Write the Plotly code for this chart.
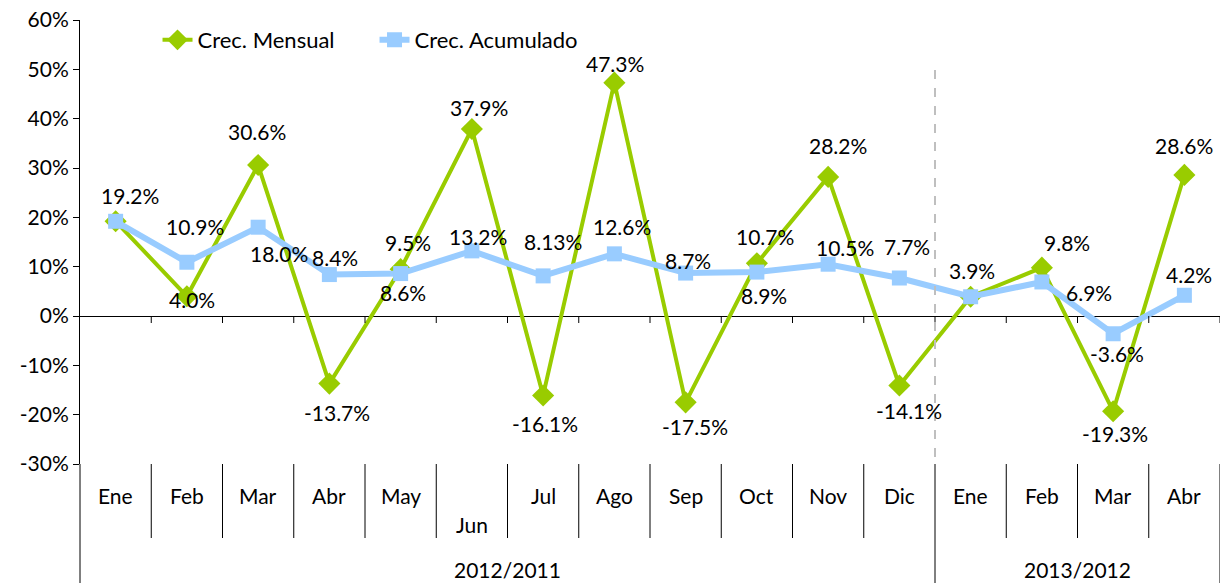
import plotly.graph_objects as go

# Monthly growth vs. same month previous year, and accumulated growth (%)
months = ["Ene", "Feb", "Mar", "Abr", "May", "Jun", "Jul", "Ago", "Sep", "Oct", "Nov", "Dic",
          "Ene", "Feb", "Mar", "Abr"]
periods = ["2012/2011", "2013/2012"]
period_sizes = [12, 4]

crec_mensual = [19.2, 4.0, 30.6, -13.7, 9.5, 37.9, -16.1, 47.3, -17.5, 10.7, 28.2, -14.1,
                3.9, 9.8, -19.3, 28.6]
crec_acumulado = [19.2, 10.9, 18.0, 8.4, 8.6, 13.2, 8.13, 12.6, 8.7, 8.9, 10.5, 7.7,
                  3.9, 6.9, -3.6, 4.2]

y_ticks = [-30, -20, -10, 0, 10, 20, 30, 40, 50, 60]

# label offsets in pixels (dx, dy); None = label not shown (coincides with the other series)
off_mensual = [(14, 26), (5, -3), (-1, 34), (8, -29), (7, 27), (7, 22), (2, -28), (1, 19),
               (9, -24), (8, 27), (10, 31), (10, -25), (1, 26), (25, 25), (2, -22), (0, 29)]
off_acumulado = [None, (8, 36), (21, -26), (6, 17), (2, -19), (6, 14), (10, 34), (8, 27),
                 (2, 13), (7, -23), (17, 17), (8, 32), None, (47, -11), (4, -20), (5, 21)]

FONT = "Lato"
FS = 21
LEG_FS = 22
GREEN = "#99CC00"
BLUE = "#99CCFF"

x = list(range(len(months)))

fig = go.Figure()
fig.add_trace(go.Scatter(
    x=x, y=crec_mensual, name="Crec. Mensual", mode="lines+markers",
    line=dict(color=GREEN, width=4),
    marker=dict(symbol="diamond", size=17, color=GREEN),
))
fig.add_trace(go.Scatter(
    x=x, y=crec_acumulado, name="Crec. Acumulado", mode="lines+markers",
    line=dict(color=BLUE, width=6),
    marker=dict(symbol="square", size=15, color=BLUE),
))

annotations = []
for series, offs in ((crec_mensual, off_mensual), (crec_acumulado, off_acumulado)):
    for i, (v, o) in enumerate(zip(series, offs)):
        if o is None:
            continue
        annotations.append(dict(
            x=i, y=v, xref="x", yref="y", text=f"{v}%", showarrow=False,
            xshift=o[0], yshift=o[1], font=dict(family=FONT, size=FS, color="black"),
        ))

# category axis below the plot: months and periods
plot_top, plot_bottom, fig_h = 20, 464, 583
plot_h = plot_bottom - plot_top


def py(pix):
    return (plot_bottom - pix) / plot_h


for i, m in enumerate(months):
    annotations.append(dict(
        x=i, y=py(524 if m == "Jun" else 495), xref="x", yref="paper", text=m,
        showarrow=False, yanchor="middle", font=dict(family=FONT, size=FS, color="black"),
    ))

start = 0
bounds = []
for p, n in zip(periods, period_sizes):
    annotations.append(dict(
        x=start + (n - 1) / 2, y=py(569), xref="x", yref="paper", text=p,
        showarrow=False, yanchor="middle", font=dict(family=FONT, size=FS, color="black"),
    ))
    start += n
    bounds.append(start - 0.5)

shapes = []
for k in range(len(months)):
    b = k + 0.5
    long_line = b in bounds
    shapes.append(dict(
        type="line", xref="x", yref="paper", x0=b, x1=b,
        y0=0, y1=py(fig_h if long_line else 538),
        line=dict(color="black", width=1),
    ))
    # small ticks on the zero line
    shapes.append(dict(
        type="line", xref="x", yref="y", ysizemode="pixel", yanchor=0,
        x0=b, x1=b, y0=0, y1=-7, line=dict(color="black", width=1),
    ))
# left axis extended through the category area
shapes.append(dict(type="line", xref="paper", yref="paper", x0=0, x1=0, y0=0, y1=py(fig_h),
                   line=dict(color="black", width=1)))
# dashed separator between periods
shapes.append(dict(type="line", xref="x", yref="paper", x0=bounds[0], x1=bounds[0],
                   y0=py(70), y1=0, line=dict(color="#BFBFBF", width=2, dash="dash")))

fig.update_layout(
    width=1227, height=583,
    margin=dict(l=80, r=7, t=plot_top, b=fig_h - plot_bottom),
    paper_bgcolor="white", plot_bgcolor="white",
    font=dict(family=FONT, size=FS, color="black"),
    showlegend=True,
    legend=dict(orientation="h", x=0.068, y=py(40), xanchor="left", yanchor="middle",
                font=dict(family=FONT, size=LEG_FS, color="black"), bgcolor="rgba(0,0,0,0)",
                itemwidth=30, tracegroupgap=0, entrywidth=172, entrywidthmode="pixels"),
    xaxis=dict(range=[-0.5, len(months) - 0.5], showgrid=False, zeroline=False,
               showticklabels=False, ticks="", showline=False, fixedrange=True),
    yaxis=dict(range=[-30, 60], tickvals=y_ticks, ticktext=[f"{t}%" for t in y_ticks],
               showgrid=False,
               zeroline=True, zerolinecolor="black", zerolinewidth=1,
               showline=True, linecolor="black", linewidth=1,
               ticks="outside", ticklen=6, tickcolor="black",
               tickfont=dict(family=FONT, size=FS, color="black")),
    annotations=annotations,
    shapes=shapes,
)

fig.write_html("out.html")
